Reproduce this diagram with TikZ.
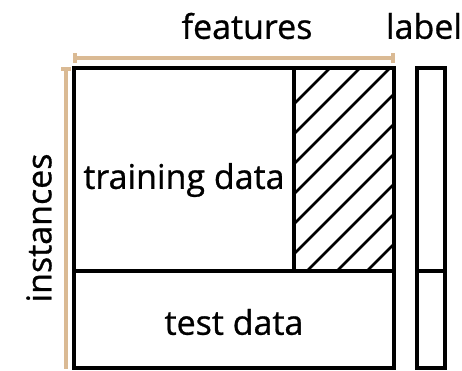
\documentclass[tikz,border=0pt]{standalone}
\usepackage{fontspec}
\setmainfont{Open Sans}[FakeBold=0.8]
\definecolor{bracket}{RGB}{218,186,148}
\begin{document}
\begin{tikzpicture}[x=1pt,y=-1pt,
  box/.style={draw=black,line width=3.2pt},
  hatch/.style={draw=black,line width=2.8pt},
  span/.style={draw=bracket,line width=3.2pt},
  lbl/.style={font=\fontsize{34}{40}\selectfont,inner sep=0pt}]
  \useasboundingbox (0,0) rectangle (462,370);
  % hatched feature block (clipped diagonal lines)
  \begin{scope}
    \clip (294,68) rectangle (394,271);
    \foreach \c in {398,428,...,668}
      \draw[hatch] (\c-300,300) -- (\c-40,40);
  \end{scope}
  % data matrix
  \draw[box] (74,68) rectangle (394,368);
  \draw[box] (74,271) -- (394,271);
  \draw[box] (294,68) -- (294,271);
  % label column
  \draw[box] (417,68) rectangle (445,368);
  \draw[box] (417,271) -- (445,271);
  % dimension brackets
  \coordinate (fl) at (75,58);
  \coordinate (fr) at (393,58);
  \draw[span] (fl) -- (fr);
  \draw[span] ([yshift=-5]fl) -- ([yshift=5]fl);
  \draw[span] ([yshift=-5]fr) -- ([yshift=5]fr);
  \coordinate (it) at (66,69);
  \coordinate (ib) at (66,369);
  \draw[span] (it) -- (ib);
  \draw[span] ([xshift=-5]it) -- ([xshift=5]it);
  % texts
  \node[lbl] (features) at (247,26) {features};
  \node[lbl] (label) at (424,26) {label};
  \node[lbl,rotate=90] (instances) at (39,228) {instances};
  \node[lbl] (train) at (184,180) {training data};
  \node[lbl] (test) at (234,322) {test data};
\end{tikzpicture}
\end{document}
